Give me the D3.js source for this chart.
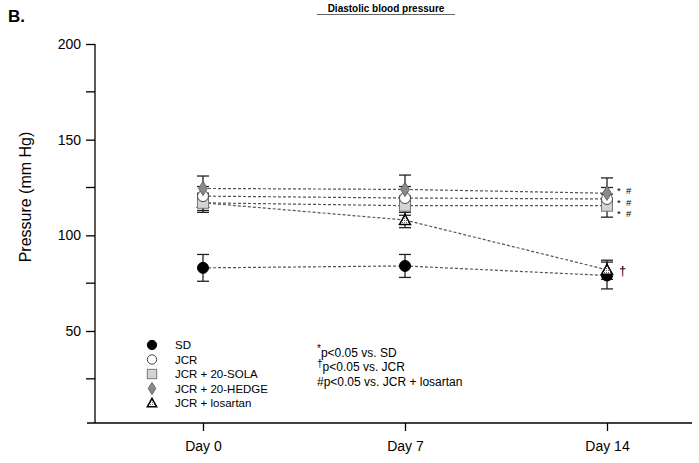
<!DOCTYPE html>
<html lang="en">
  <head>
    <style>
      body { margin: 0; background: #fff; }
      text { font-family: "Liberation Sans", Arial, sans-serif; fill: #000; }
      .axis path, .axis line { stroke: #000; stroke-width: 1.3; }
      .links line { stroke: #555; stroke-width: 1.2; stroke-dasharray: 3,2; }
    </style>
  </head>
  <body>
    <svg id="container" height="463" width="699"></svg>
  </body>
  <script src="https://d3js.org/d3.v7.min.js"></script>
  <script>
let svg = d3.select("#container")

// data
let days = [0, 7, 14]
let dayLabels = ["Day 0", "Day 7", "Day 14"]
let groups = ["SD", "JCR", "JCR + 20-SOLA", "JCR + 20-HEDGE", "JCR + losartan"]
let sdMean = [83, 84, 79]
let sdErr = [7, 6, 7]
let jcrMean = [120.5, 119.5, 119]
let jcrErr = [5, 6, 6]
let solaMean = [117, 115.5, 115.5]
let solaErr = [5, 5, 6]
let hedgeMean = [124.5, 124, 122]
let hedgeErr = [6.5, 7.5, 8]
let losMean = [117, 108, 82]
let losErr = [4, 4, 5]
let yTicks = [50, 100, 150, 200]
let yMinor = [25, 75, 125, 175]
let sigRows = ["* #", "* #", "* #"]

let series = [
  {name: groups[0], mean: sdMean, err: sdErr, shape: "circle", fill: "#000"},
  {name: groups[1], mean: jcrMean, err: jcrErr, shape: "circle", fill: "#fff"},
  {name: groups[2], mean: solaMean, err: solaErr, shape: "square", fill: "#d4d4d4"},
  {name: groups[3], mean: hedgeMean, err: hedgeErr, shape: "diamond", fill: "#8a8a8a"},
  {name: groups[4], mean: losMean, err: losErr, shape: "triangle", fill: "#fff"}
]

let x = d3.scaleLinear().domain([0, 14]).range([203, 607])
let y = d3.scaleLinear().domain([50, 200]).range([331, 44])

let defs = svg.append("defs")
defs.append("pattern")
    .attr("id", "dots")
    .attr("width", 2).attr("height", 2)
    .attr("patternUnits", "userSpaceOnUse")
  .append("rect")
    .attr("width", 1).attr("height", 1)
    .attr("fill", "#000")

// title etc
svg.append("text").attr("x", 8).attr("y", 22)
    .attr("font-size", 17).attr("font-weight", "bold").text("B.")
svg.append("text").attr("x", 386).attr("y", 12)
    .attr("text-anchor", "middle").attr("font-size", 10).attr("font-weight", "bold")
    .text("Diastolic blood pressure")
svg.append("line").attr("x1", 317).attr("x2", 455).attr("y1", 14.5).attr("y2", 14.5)
    .attr("stroke", "#666").attr("stroke-width", 1)

svg.append("text")
    .attr("transform", "translate(31,197) rotate(-90)")
    .attr("text-anchor", "middle").attr("font-size", 16)
    .text("Pressure (mm Hg)")

// axes
let yAxis = svg.append("g").attr("class", "axis")
    .attr("transform", "translate(95,0)")
    .call(d3.axisLeft(y).tickValues(yTicks).tickSize(9).tickSizeOuter(0).tickFormat(d3.format("d")))
yAxis.select(".domain").remove()
yAxis.selectAll("text").attr("font-size", 14).attr("fill", "#000").attr("dx", -2)
yAxis.append("line").attr("x1", 0).attr("x2", 0).attr("y1", y(200)).attr("y2", 423)
yAxis.selectAll(".minor").data(yMinor).enter().append("line")
    .attr("x1", -9).attr("x2", 0).attr("y1", d => y(d)).attr("y2", d => y(d))

let xAxis = svg.append("g").attr("class", "axis")
    .attr("transform", "translate(0,423)")
    .call(d3.axisBottom(x).tickValues(days).tickSize(8).tickSizeOuter(0).tickFormat((d, i) => dayLabels[i]))
xAxis.select(".domain").attr("d", "M87,0H692")
xAxis.selectAll("text").attr("font-size", 14).attr("fill", "#000").attr("dy", "1.2em")

// dashed connecting lines
let links = svg.append("g").attr("class", "links")
series.forEach(s => {
  links.selectAll(null).data(d3.pairs(days.map((d, i) => [d, s.mean[i]]))).enter()
    .append("line")
    .attr("x1", d => x(d[0][0])).attr("y1", d => y(d[0][1]))
    .attr("x2", d => x(d[1][0])).attr("y2", d => y(d[1][1]))
})

// error bars
let bars = svg.append("g").attr("stroke", "#222").attr("stroke-width", 1.3)
series.forEach(s => {
  days.forEach((d, i) => {
    let cx = x(d)
    bars.append("line").attr("x1", cx).attr("x2", cx)
        .attr("y1", y(s.mean[i] + s.err[i])).attr("y2", y(s.mean[i] - s.err[i]))
    ;[s.mean[i] + s.err[i], s.mean[i] - s.err[i]].forEach(v => {
      bars.append("line").attr("x1", cx - 6).attr("x2", cx + 6)
          .attr("y1", y(v)).attr("y2", y(v))
    })
  })
})

function drawMarker(g, s, cx, cy, scale) {
  let r = 5.5 * scale
  if (s.shape === "circle") {
    g.append("circle").attr("cx", cx).attr("cy", cy).attr("r", r)
        .attr("fill", s.fill).attr("stroke", s.fill === "#000" ? "#000" : "#444").attr("stroke-width", 1)
  } else if (s.shape === "square") {
    g.append("rect").attr("x", cx - r).attr("y", cy - r).attr("width", 2 * r).attr("height", 2 * r)
        .attr("fill", s.fill).attr("stroke", "#777").attr("stroke-width", 1)
  } else if (s.shape === "diamond") {
    g.append("path").attr("d", `M${cx},${cy - r * 1.3}L${cx + r * 0.8},${cy}L${cx},${cy + r * 1.3}L${cx - r * 0.8},${cy}Z`)
        .attr("fill", s.fill).attr("stroke", "#666").attr("stroke-width", 1)
  } else {
    let tri = `M${cx},${cy - r}L${cx + r},${cy + r * 0.8}L${cx - r},${cy + r * 0.8}Z`
    g.append("path").attr("d", tri).attr("fill", "#fff").attr("stroke", "#000").attr("stroke-width", 1.5)
    g.append("path").attr("d", tri).attr("fill", "url(#dots)").attr("opacity", 0.6)
  }
}

// markers, drawn so the grey diamond stays on top like in the original
let marks = svg.append("g")
let order = [0, 4, 2, 1, 3]
order.forEach(k => {
  let s = series[k]
  days.forEach((d, i) => drawMarker(marks, s, x(d), y(s.mean[i]), 1))
})

// significance marks at day 14, one row per group (HEDGE, JCR, SOLA)
let sig = svg.append("g").attr("font-size", 9.5)
sigRows.forEach((t, i) => {
  sig.append("text").attr("x", x(14) + 10).attr("y", y(hedgeMean[2]) + 1 + i * 11.5)
      .attr("xml:space", "preserve").text(t.replace(" ", "  "))
})
sig.append("text").attr("x", x(14) + 12).attr("y", y(losMean[2]) + 5).attr("font-size", 13).text("†")

// legend
let legend = svg.append("g")
groups.forEach((name, i) => {
  let ly = 345 + i * 14.5
  drawMarker(legend, series[i], 152, ly, 0.85)
  legend.append("text").attr("x", 175).attr("y", ly + 4).attr("font-size", 11.5).text(name)
})

let notes = svg.append("g").attr("font-size", 12)
notes.append("text").attr("x", 317).attr("y", 357)
    .html('<tspan font-size="10" dy="-5">*</tspan><tspan dy="5">p&lt;0.05 vs. SD</tspan>')
notes.append("text").attr("x", 317).attr("y", 371)
    .html('<tspan font-size="10" dy="-4">†</tspan><tspan dy="4">p&lt;0.05 vs. JCR</tspan>')
notes.append("text").attr("x", 317).attr("y", 386).text("#p<0.05 vs. JCR + losartan")
  </script>
</html>
